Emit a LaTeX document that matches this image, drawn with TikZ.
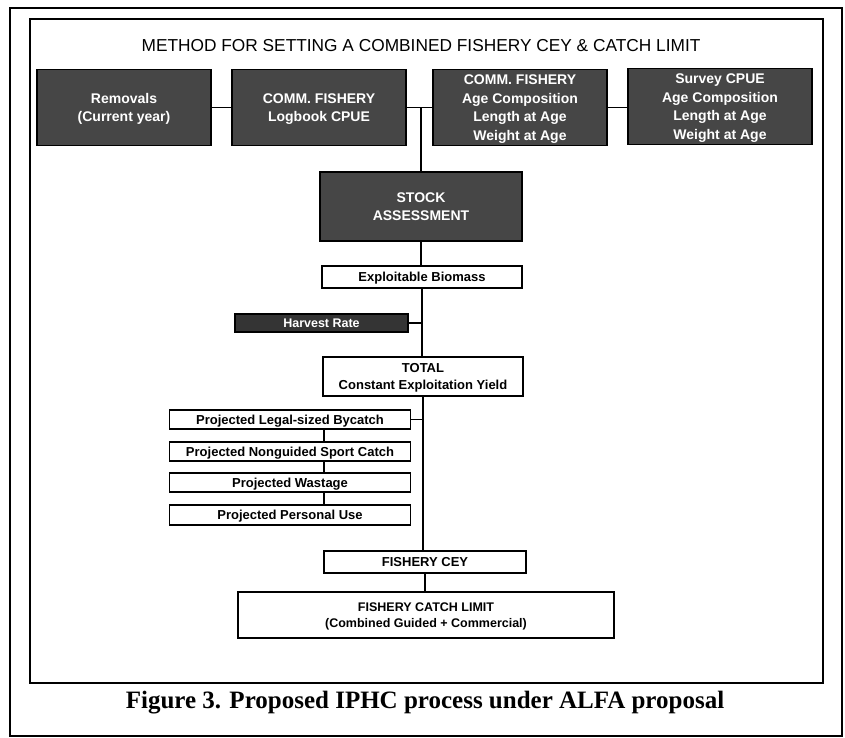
\documentclass[tikz,border=0pt]{standalone}
\usepackage{fontspec}
\setmainfont{Liberation Sans}
\newfontfamily\arialf{Liberation Sans}
\newfontfamily\timesf{Liberation Serif}
\definecolor{darkfill}{RGB}{70,70,70}
\definecolor{harvfill}{RGB}{52,52,52}
\begin{document}
\begin{tikzpicture}[x=1pt,y=-1pt,
  darkbox/.style={draw=black, line width=1.8pt, fill=darkfill, text=white,
    align=center, inner sep=0pt, font=\arialf\bfseries\fontsize{14}{18.5}\selectfont},
  whitebox/.style={draw=black, line width=1.4pt, fill=white, align=center,
    inner sep=0pt, font=\arialf\bfseries\fontsize{13}{17}\selectfont},
  oneline/.style={text depth=0pt},
  link/.style={draw=black, line width=1.3pt},
  frame/.style={draw=black, line width=1.2pt}]
\useasboundingbox (0,0) rectangle (845,738);
% frames
\draw[frame] (10,8) rectangle (842,736);
\draw[frame] (30,19) rectangle (823,683);
% title
\node[anchor=base, font=\arialf\fontsize{17.3}{20}\selectfont] (title) at (421,52)
  {METHOD FOR SETTING A COMBINED FISHERY CEY \& CATCH LIMIT};
% top row
\node[darkbox, minimum width=174pt, minimum height=76pt] (b1) at (124,107.5)
  {Removals\\\smash{(Current year)}};
\node[darkbox, minimum width=174pt, minimum height=76pt] (b2) at (319,107.5)
  {COMM. FISHERY\\\smash{Logbook CPUE}};
\node[darkbox, minimum width=174pt, minimum height=76pt] (b3) at (520,107.5)
  {COMM. FISHERY\\Age Composition\\Length at Age\\\smash{Weight at Age}};
\node[darkbox, minimum width=184pt, minimum height=76pt] (b4) at (720,106.5)
  {Survey CPUE\\Age Composition\\Length at Age\\\smash{Weight at Age}};
% stock assessment
\node[darkbox, line width=2pt, minimum width=202pt, minimum height=69pt,
  font=\arialf\bfseries\fontsize{14}{18}\selectfont] (stock) at (421,206.5)
  {STOCK\\\smash{ASSESSMENT}};
% main column
\node[whitebox, oneline, minimum width=200pt, minimum height=22pt] (bio) at (422,277)
  {Exploitable Biomass};
\node[darkbox, oneline, line width=1.4pt, fill=harvfill, minimum width=173pt, minimum height=18pt,
  font=\arialf\bfseries\fontsize{12.5}{15}\selectfont] (harv) at (321.5,323)
  {Harvest Rate};
\node[whitebox, minimum width=200pt, minimum height=39pt] (total) at (423,376.5)
  {TOTAL\\\smash{Constant Exploitation Yield}};
\node[whitebox, oneline, minimum width=241pt, minimum height=19pt] (legal) at (290,419.5)
  {Projected Legal-sized Bycatch};
\node[whitebox, oneline, minimum width=241pt, minimum height=19pt] (nong) at (290,451.5)
  {Projected Nonguided Sport Catch};
\node[whitebox, oneline, minimum width=241pt, minimum height=19pt] (waste) at (290,482.5)
  {Projected Wastage};
\node[whitebox, oneline, minimum width=241pt, minimum height=20pt] (pers) at (290,515)
  {Projected Personal Use};
\node[whitebox, oneline, minimum width=202pt, minimum height=22pt,
  font=\arialf\bfseries\fontsize{13}{16}\selectfont] (cey) at (425,562)
  {FISHERY CEY};
\node[whitebox, minimum width=376pt, minimum height=46pt,
  font=\arialf\bfseries\fontsize{12.5}{16}\selectfont] (catch) at (426,615)
  {FISHERY CATCH LIMIT\\\smash{(Combined Guided + Commercial)}};
% caption
\node[anchor=base, font=\timesf\bfseries\fontsize{25}{28}\selectfont] (cap) at (425,708)
  {Figure 3. Proposed IPHC process under ALFA proposal};
% connectors
\draw[link] (b1.east) -- (b2.west);
\draw[link] (b2.east) -- (b3.west);
\draw[link] (b3.east) -- (b3.east -| b4.west);
\coordinate (j) at (stock.north |- b2.east);
\draw[link] (j) -- (stock.north);
\draw[link] (stock.south) -- (stock.south |- bio.north);
\draw[link] (bio.south) -- (bio.south |- total.north);
\coordinate (hj) at (harv.east -| bio.south);
\draw[link] (harv.east) -- (hj);
\draw[link] (total.south) -- (total.south |- cey.north);
\coordinate (lj) at (legal.east -| total.south);
\draw[link] (legal.east) -- (lj);
\draw[link] (cey.south) -- (cey.south |- catch.north);
\draw[link] ([xshift=34pt]legal.south) -- ([xshift=34pt]nong.north);
\draw[link] ([xshift=34pt]nong.south) -- ([xshift=34pt]waste.north);
\draw[link] ([xshift=34pt]waste.south) -- ([xshift=34pt]pers.north);
\end{tikzpicture}
\end{document}
